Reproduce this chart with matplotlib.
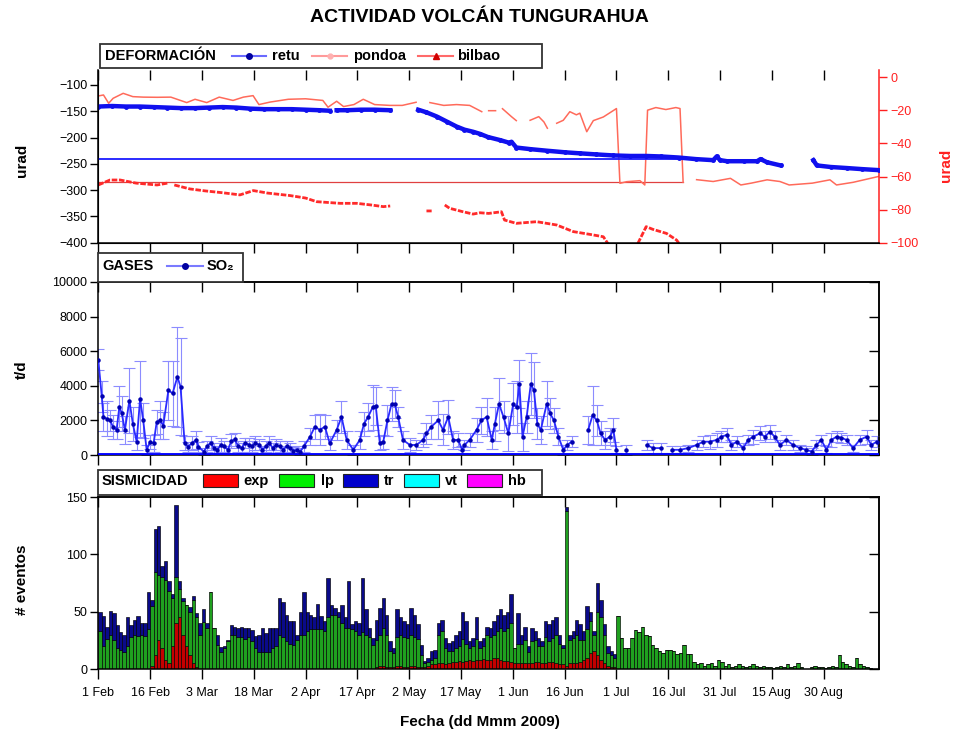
import matplotlib
matplotlib.use('Agg')
import matplotlib.pyplot as plt
from matplotlib.lines import Line2D
from matplotlib.patches import Rectangle
import numpy as np

plt.rcParams['font.family'] = ['Liberation Sans', 'DejaVu Sans']

nan = np.nan
W, H = 956, 738

# x axis: days since 1 Feb 2009
tick_days = [0, 15, 30, 45, 60, 75, 90, 105, 120, 135, 150, 165, 180, 195, 210]
tick_labels = ['1 Feb', '16 Feb', '3 Mar', '18 Mar', '2 Apr', '17 Apr', '2 May', '17 May',
               '1 Jun', '16 Jun', '1 Jul', '16 Jul', '31 Jul', '15 Aug', '30 Aug']

# ---- DEFORMACION (retu on left axis, pondoa / bilbao on right axis) ----
retu_day = [0, 4, 8, 12, 16, 20, 24, 28, 32, 36, 40, 44, 48, 52, 56, 60, 64, 67, 68,
            69, 72, 76, 80, 84.5, 88, 92.6, 95, 98, 101, 103.7, 106, 108.5, 110.5, 112.8,
            116.4, 119, 119.6, 121, 125, 129.8, 135, 139.4, 144, 149, 154, 158.6, 163, 168,
            173, 178, 179, 180, 182, 187, 190.7, 191.7, 193.6, 197.5, 202, 207, 208, 212,
            216.7, 221, 226]
retu = [-141, -140, -141, -141, -142, -143, -144, -144, -143, -142, -143, -145, -146, -146,
        -146, -147, -148, -149, nan, -148, -148, -147, -147, -148, nan, -147, -152, -160,
        -170, -179, -185, -189, -193, -199, -205, -210, -208, -219, -222, -225, -228, -230,
        -232, -234, -235, -235, -236, -238, -241, -243, -236, -243, -245, -245, -245, -241,
        -247, -253, nan, -243, -253, -256, -258, -260, -262]

pondoa_day = [0, 1.5, 3, 4.3, 7.2, 10, 13, 17, 21, 25.6, 28, 31.4, 35, 39, 42, 44.8, 46.5,
              49.7, 55, 60, 65, 66.5, 69, 71, 74, 76.7, 80, 84.4, 88, 92, 94, 96, 100, 103.7,
              107.5, 111, 112, 113, 115, 116, 117, 119.6, 121, 122, 125, 127.5, 129, 130, 131,
              132.7, 134.6, 136.5, 138.4, 139.4, 141.4, 143.3, 146.2, 150, 151, 153, 156.8,
              158.2, 159, 161.4, 164.3, 167.2, 168.4, 169.3, 171, 173.2, 178, 183, 186, 189,
              193.6, 197.3, 200, 206.7, 211.8, 213.7, 218.5, 226]
pondoa = [-11.3, -10.7, -15.7, -12.7, -9.7, -11.7, -12, -12.1, -12, -15.3, -13.3, -15.3, -12,
          -14, -12, -11.1, -16.5, -15, -13.3, -13, -14, -18.1, -14.5, -17.7, -16.5, -13.3,
          -16.5, -17, -17, -15.1, nan, -15.3, -17, -16.5, -17, -20.8, nan, -20.2, -20.2, nan,
          -19, -23.8, -26.2, nan, -26, -23.8, -27, -30.8, nan, -27.8, -26, -20.8, -22.7, -21.7,
          -32.9, -26.2, -24, -18.9, -64.1, -63.1, -62.5, -65.1, -19.9, -18.3, -19.5, -18.3,
          -18.9, -63.5, nan, -61.9, -63, -61.1, -65.1, -64, -62, -63, -65.1, -64, -62, -65.1,
          -63.5, -59.9]

bilbao_day = [0, 3.4, 6.3, 11, 17, 20, 21, 22, 26.5, 31, 36, 41, 44.9, 49, 55.5, 60, 63.2,
              70, 74.8, 79, 82.5, 84.5, 85.5, 86.8, 90, 95, 96.5, 98, 100.3, 101.7, 105.6,
              108.5, 110.5, 113, 116.7, 117.6, 121, 126.9, 132.7, 137.5, 142.4, 146.2, 148,
              150, 155, 156.3, 158.6, 160.5, 164.5, 167.4, 169]
bilbao = [-65.1, -62.1, -62.1, -64, -65.1, -64, nan, -65.1, -67.5, -68.7, -69.8, -71.1, -68.5,
          -70, -71.5, -73, -75.2, -76.2, -76.2, -77.2, -78.2, -77.8, nan, -77.2, nan, -80.8,
          -80.8, nan, -77.2, -79.2, -81.3, -82.7, -81.9, -82.3, -81.3, -86.3, -88.3, -87.3,
          -89.3, -93.3, -95, -96.4, -102, nan, -104, -100, -90.3, -91.9, -94.4, -98.4, -103]

# straight reference lines drawn across the panel
retu_ref = -241
pondoa_ref = -63.5
ref_end = 169.3

# ---- GASES: SO2 flux (t/d) ----
so2_day = [0, 1, 1.5, 2.4, 3.4, 4.3, 5.3, 6.1, 6.8, 7.7, 9, 10, 11.1, 12.1, 13, 14, 15, 16,
           16.9, 17.9, 18.8, 20.3, 21.5, 22.9, 23.8, 25, 26, 27, 28.3, 29, 30.5, 31.5, 32.5,
           33.5, 34.5, 35.5, 36.5, 37.5, 38.5, 39.5, 40.5, 41.5, 42.5, 43.5, 44.5, 45.5,
           46.5, 47.5, 48.5, 49.5, 50.5, 51.5, 52.5, 53.5, 54.5, 55.5, 56.5, 57.5, 58.5,
           59.5, 61.3, 62.7, 64.1, 65.6, 67, 69, 70.4, 71.9, 73.8, 75.7, 76.9, 78.1, 79.4,
           80.3, 81.5, 82.5, 83.7, 84.9, 85.8, 86.8, 88.2, 90.2, 92.1, 94, 95, 96.4, 98.4,
           99.8, 101.3, 102.7, 104.2, 105.3, 106, 107.5, 109.5, 110.9, 112.4, 113.9, 114.8,
           116, 117.3, 118.7, 120.1, 121.1, 121.9, 122.8, 124, 125.2, 126.1, 127.1, 128.1,
           129.8, 130.8, 131.9, 133.2, 134.6, 135.8, 137, 141.8, 143.1, 144.3, 145.4, 146.7,
           148.1, 149.1, 150, 152.9, 158.7, 160.6, 163, 166, 168.4, 170.8, 173.2, 175.1, 177,
           179, 180.4, 181.9, 183.3, 184.8, 186.7, 188.1, 189.6, 191.5, 193, 194.4, 195.8,
           197.3, 199.2, 201.1, 203.1, 205, 206.5, 207.9, 209.3, 210.8, 212.2, 213.7, 215.1,
           216.6, 218.5, 220.4, 222.4, 223.8, 225.3]
so2 = [5500, 3400, 2200, 2100, 2000, 1600, 1450, 2800, 2400, 1450, 3150, 1800, 770, 3250,
       2000, 300, 770, 670, 1900, 2000, 1700, 3750, 3560, 4520, 3950, 670, 480, 670, 870, 480,
       200, 500, 700, 400, 300, 600, 500, 300, 800, 900, 500, 400, 700, 600, 500, 700, 600,
       300, 500, 700, 400, 600, 500, 300, 500, 400, 250, 300, 200, 500, 1060, 1640, 1450,
       1640, 670, 1450, 2200, 870, 300, 870, 1800, 2200, 2750, 2850, 670, 770, 2000, 2950,
       2950, 2200, 870, 580, 580, 870, 1250, 1640, 2000, 1450, 2200, 870, 870, 300, 580, 870,
       1450, 2000, 2200, 870, 1800, 2950, 2200, 1250, 2950, 2750, 4100, 1060, 2200, 4100,
       3750, 1800, 1450, 2950, 2400, 2000, 1060, 300, 580, 770, 1450, 2300, 2000, 1250, 870,
       1060, 1450, 300, 300, 580, 400, 400, 300, 300, 400, 580, 770, 770, 870, 1060, 1160,
       580, 770, 400, 870, 1060, 1250, 1060, 1350, 1060, 580, 870, 580, 400, 300, 200, 580,
       870, 300, 870, 1060, 1000, 870, 400, 870, 1060, 580, 770]
so2_err = [600, 900, 800, 1000, 600, 700, 500, 1200, 1000, 800, 1900, 1000, 500, 2200, 1000,
           300, 400, 500, 700, 1100, 800, 1700, 1900, 2900, 2800, 400, 300, 400, 500, 300, 200,
           300, 400, 300, 200, 400, 300, 200, 400, 400, 300, 300, 300, 400, 300, 400, 300, 200,
           300, 400, 300, 300, 300, 200, 300, 300, 200, 200, 200, 300, 500, 700, 900, 700, 400,
           600, 900, 500, 300, 500, 700, 800, 1300, 1100, 400, 400, 900, 1000, 800, 600, 500,
           400, 300, 400, 600, 700, 1100, 900, 1000, 500, 400, 200, 300, 400, 700, 800, 1100,
           500, 1000, 1500, 900, 1000, 1200, 1500, 1400, 800, 900, 1800, 1600, 900, 800, 1300,
           900, 700, 500, 300, 300, 300, 800, 1700, 900, 700, 500, 500, 700, 200, 300, 300, 300,
           300, 200, 200, 200, 300, 300, 400, 400, 300, 400, 300, 300, 300, 300, 400, 400, 300,
           400, 300, 300, 300, 300, 200, 200, 200, 300, 300, 200, 400, 300, 300, 300, 200, 300,
           400, 300, 300]

# ---- SISMICIDAD: daily events, 1 Feb .. 13 Sep ----
exp_ev = ([0] * 15 + [3, 12, 25, 18, 8, 5, 20, 40, 45, 30, 20, 12, 5, 2] + [0] * 51 +
          [2, 3, 3, 2, 2, 2, 3, 3, 2, 2, 3, 3, 2, 2, 2, 3, 4, 4, 5, 5, 4, 5, 6, 6, 7, 6, 7, 8,
           7, 8, 8, 9, 8, 8, 10, 10, 8, 7, 7, 6, 5, 5, 5, 5, 5, 5, 6, 6, 5, 5, 6, 6, 5, 4, 4, 3,
           5, 5, 5, 6, 8, 10, 14, 16, 12, 8, 5, 3, 2, 2] + [0] * 74)
lp_ev = [33, 20, 26, 30, 25, 18, 17, 15, 20, 28, 30, 29, 30, 29, 35, 52, 73, 57, 62, 70,
         63, 42, 40, 25, 29, 36, 38, 55, 43, 30, 41, 36, 67, 36, 21, 15, 18, 24, 30, 30,
         28, 28, 26, 28, 24, 18, 15, 15, 15, 15, 18, 20, 30, 28, 24, 22,
         21, 25, 30, 30, 33, 35, 35, 35, 35, 33, 45, 47, 47, 45, 40, 36, 36, 35, 33, 30,
         32, 30, 28, 21, 23, 27, 33, 28, 14, 12, 25, 27, 26, 25, 27, 25, 24, 10,
         3, 3, 4, 6, 25, 28, 14, 11, 10, 12, 13, 20, 15, 10, 13, 18, 10, 11,
         22, 20, 20, 23, 28, 26, 29, 34, 13, 17, 17, 20, 10, 19, 19, 14, 15, 23, 18, 21,
         25, 18, 14, 135, 20, 22, 25, 19, 17, 25, 28, 14, 38, 37, 25, 11, 10, 8,
         46, 27, 18, 18, 27, 34, 32, 37, 30, 29, 21, 18, 16, 14, 17, 17, 16, 13, 14, 21, 13, 13,
         6, 4, 5, 3, 4, 5, 3, 8, 6, 3, 4, 2, 3, 4, 3, 2, 3, 4, 3, 2, 3, 2, 2, 1, 2, 3, 2, 4,
         2, 3, 5, 2, 0, 0, 2, 3, 2, 2, 1, 2, 3, 2, 12, 6, 4, 3, 2, 10, 4, 3, 2, 1]
tr_ev = ([17, 26, 11, 21, 24, 20, 15, 15, 25, 10, 13, 17, 10, 11, 32, 5, 37, 43, 10, 16,
          9, 3, 63, 7, 3, 0, 4, 4, 4, 10, 11, 4, 0, 0, 9, 4, 2, 1, 8, 7,
          8, 9, 10, 8, 10, 11, 15, 21, 16, 21, 18, 16, 32, 30, 23, 20,
          21, 5, 20, 37, 17, 12, 10, 22, 11, 9, 34, 9, 6, 5, 16, 9, 41, 4, 9, 10,
          47, 22, 8, 6, 18, 23, 26, 17, 8, 4, 24, 15, 14, 12, 23, 19, 13, 9, 2, 4,
          8, 7, 10, 10, 9, 7, 8, 12, 13, 24, 20, 6, 7, 19, 6, 7,
          7, 8, 12, 14, 16, 14, 14, 25, 0, 27, 8, 12, 5, 12, 8, 7, 4, 14, 15, 16,
          15, 8, 3, 3, 5, 6, 13, 14, 8, 20, 8, 3, 25, 15, 9, 6, 4, 3] + [0] * 74)

exp_c, lp_c, tr_c = '#c40000', '#1fa01f', '#0a0a8a'


def fx(px):
    return px / W


def fy(py):
    return 1 - py / H


fig = plt.figure(figsize=(W / 100, H / 100), dpi=100)
L, R = 98.3, 879
XMAX = 226


def panel(top, bottom):
    return fig.add_axes([fx(L), fy(bottom), fx(R) - fx(L), (bottom - top) / H])


def style(ax, top_spine=True, right_in=True, yticks=None):
    ax.set_xlim(0, XMAX)
    ax.set_xticks(tick_days)
    ax.tick_params(axis='x', direction='out', length=7, width=1, labelbottom=False)
    ax.tick_params(axis='y', direction='out', length=6, width=1, labelsize=9, pad=2)
    for s in ax.spines.values():
        s.set_linewidth(1.1)
    sx = ax.secondary_xaxis('top')
    sx.set_xticks(tick_days)
    sx.tick_params(direction='in', length=7, width=1, labeltop=False)
    sx.spines['top'].set_linewidth(1.1)
    if not top_spine:
        ax.spines['top'].set_visible(False)
        sx.spines['top'].set_visible(False)
    if right_in:
        sy = ax.secondary_yaxis('right')
        sy.set_yticks(yticks)
        sy.tick_params(direction='in', length=7, width=1, labelright=False)
        sy.spines['right'].set_linewidth(1.1)


# ---------------- deformation ----------------
ax1 = panel(70, 242.7)
ax1r = ax1.twinx()
ax1.set_zorder(ax1r.get_zorder() + 1)
ax1.patch.set_visible(False)
ax1.set_ylim(-400, -71.5)
ax1.set_yticks(np.arange(-400, -99, 50))
ax1r.set_ylim(-100, 4.4)
ax1r.set_yticks(np.arange(-100, 1, 20))
style(ax1, top_spine=False, right_in=False)
ax1.spines['right'].set_visible(False)
ax1r.spines['top'].set_visible(False)
ax1r.spines['right'].set_color('#ff2020')
ax1r.spines['right'].set_linewidth(1.1)
ax1r.tick_params(axis='y', colors='#ff2020', direction='out', length=6, width=1,
                 labelsize=9, pad=2)

ax1r.plot([0, ref_end], [pondoa_ref, pondoa_ref], color='#e04040', lw=0.9)
ax1r.plot(pondoa_day, pondoa, color='#ff6a5a', lw=1.1)
ax1r.plot(bilbao_day, bilbao, color='#ff2a2a', lw=2.0, ls=(0, (2, 0.6)))
ax1.plot([0, ref_end], [retu_ref, retu_ref], color='#1a1aff', lw=1.3)
ax1.plot(retu_day, retu, color='#1010ee', lw=3.2, marker='o', ms=2.5)

# ---------------- gases ----------------
ax2 = panel(282, 455)
ax2.set_ylim(0, 10000)
ax2.set_yticks(np.arange(0, 10001, 2000))
style(ax2, yticks=np.arange(0, 10001, 2000))
ax2.axhline(0, color='#0000ff', lw=3.5, zorder=3)
ax2.errorbar(so2_day, so2, yerr=so2_err, fmt='none', ecolor='#8c8cff', elinewidth=0.8,
             capsize=4, capthick=0.8, zorder=2)
d = np.array(so2_day, dtype=float)
v = np.array(so2, dtype=float)
breaks = np.where(np.diff(d) > 2.5)[0] + 1
d_line = np.insert(d, breaks, nan)
v_line = np.insert(v, breaks, nan)
ax2.plot(d_line, v_line, color='#2a2aff', lw=1.3, marker='o', ms=2.2, mfc='#0000b0',
         mec='#0000b0', zorder=4)

# ---------------- seismicity ----------------
ax3 = panel(497, 669)
ax3.set_ylim(0, 150)
ax3.set_yticks([0, 50, 100, 150])
style(ax3, yticks=[0, 50, 100, 150])
days = np.arange(len(lp_ev))
exp_a = np.array(exp_ev)
lp_a = np.array(lp_ev)
tr_a = np.array(tr_ev)
bar_kw = dict(width=1, align='edge', edgecolor='black', linewidth=0.45)
ax3.bar(days, exp_a, color=exp_c, **bar_kw)
ax3.bar(days, lp_a, bottom=exp_a, color=lp_c, **bar_kw)
ax3.bar(days, tr_a, bottom=exp_a + lp_a, color=tr_c, **bar_kw)
ax3.tick_params(axis='x', labelbottom=True, pad=6)
ax3.set_xticklabels(tick_labels, fontsize=9, family=['Liberation Sans Narrow', 'Liberation Sans'])

# ---------------- titles and labels ----------------
fig.text(0.501, fy(18), 'ACTIVIDAD VOLCÁN TUNGURAHUA', ha='center', va='center',
         fontsize=14, fontweight='bold')
fig.text(fx(22), fy(160), 'urad', rotation=90, ha='center', va='center', fontsize=11,
         fontweight='bold')
fig.text(fx(946), fy(165), 'urad', rotation=90, ha='center', va='center', fontsize=11,
         fontweight='bold', color='#ff2020')
fig.text(fx(22), fy(370), 't/d', rotation=90, ha='center', va='center', fontsize=11,
         fontweight='bold')
fig.text(fx(22), fy(580), '# eventos', rotation=90, ha='center', va='center', fontsize=11,
         fontweight='bold')
fig.text(fx(480), fy(722), 'Fecha (dd Mmm 2009)', ha='center', va='center', fontsize=11,
         fontweight='bold')


# ---------------- legend boxes ----------------
def box(x0, y0, x1, y1):
    fig.add_artist(Rectangle((fx(x0), fy(y1)), fx(x1) - fx(x0), (y1 - y0) / H,
                             transform=fig.transFigure, facecolor='white',
                             edgecolor='#333333', lw=1.3, zorder=5))


def label(x, y, s, bold=True):
    fig.text(fx(x), fy(y), s, ha='left', va='center', fontsize=10.5,
             fontweight='bold' if bold else 'normal', zorder=7)


def line_key(x0, x1, y, color, marker, mcolor, ms):
    fig.add_artist(Line2D([fx(x0), fx(x1)], [fy(y), fy(y)], transform=fig.transFigure,
                          color=color, lw=1.5, zorder=6))
    fig.add_artist(Line2D([fx((x0 + x1) / 2)], [fy(y)], transform=fig.transFigure,
                          marker=marker, color=mcolor, ms=ms, lw=0, zorder=7))


def patch_key(x0, x1, y0, y1, color):
    fig.add_artist(Rectangle((fx(x0), fy(y1)), fx(x1) - fx(x0), (y1 - y0) / H,
                             transform=fig.transFigure, facecolor=color,
                             edgecolor='#222222', lw=0.8, zorder=6))


box(100, 44, 542, 68)
label(105, 56, 'DEFORMACIÓN')
line_key(232, 266, 56, '#6a6aff', 'o', '#0000a0', 4)
label(272, 56, 'retu')
line_key(312, 347, 56, '#ff9a9a', 'o', '#ffb0b0', 3.5)
label(353, 56, 'pondoa')
line_key(418, 453, 56, '#ff6a6a', '^', '#d00000', 4)
label(457, 56, 'bilbao')

box(98, 253, 243, 282)
label(102, 266, 'GASES')
line_key(167, 203, 266, '#7a7aff', 'o', '#0000a0', 4)
label(207, 266, 'SO₂')

box(98, 470, 542, 495)
label(102, 481, 'SISMICIDAD')
keys = [('exp', '#ff0000', 203, 243), ('lp', '#00ee00', 279, 321), ('tr', '#0000cc', 343, 384),
        ('vt', '#00ffff', 404, 445), ('hb', '#ff00ff', 467, 508)]
for name, col, px0, tx in keys:
    patch_key(px0, px0 + 35, 474, 487, col)
    label(tx, 481, name)

fig.savefig('out.png', dpi=100)
